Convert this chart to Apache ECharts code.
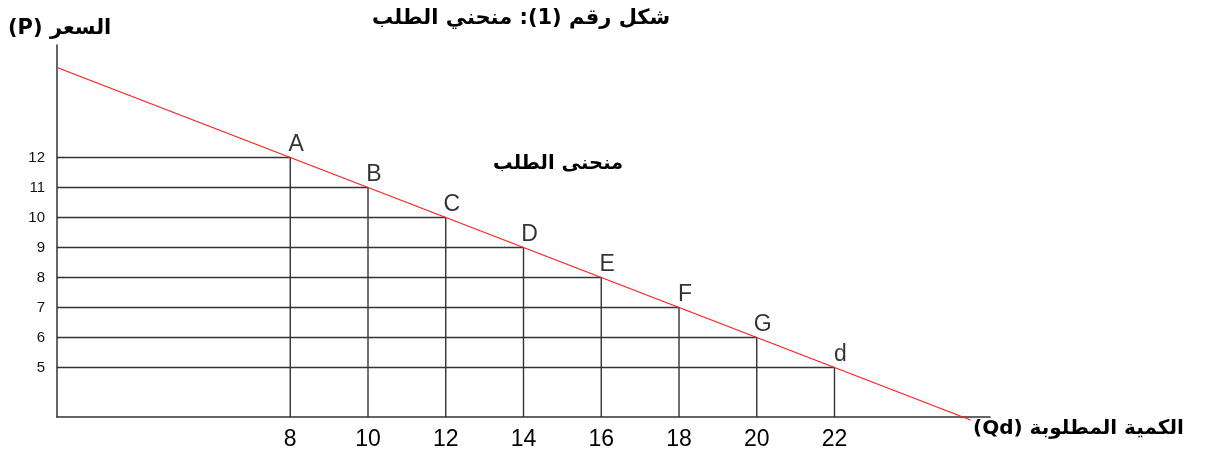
<!DOCTYPE html>
<html>
<head>
<meta charset="utf-8">
<script src="https://cdn.jsdelivr.net/npm/echarts@6/dist/echarts.min.js"></script>
<style>
  html, body { margin: 0; padding: 0; background: #fff; }
  #chart { width: 1208px; height: 455px; }
</style>
</head>
<body>
<div id="chart"></div>
<script>
// Demand schedule: named points on the curve
const pointNames = ['A', 'B', 'C', 'D', 'E', 'F', 'G', 'd'];
const quantity = [8, 10, 12, 14, 16, 18, 20, 22];
const price = [12, 11, 10, 9, 8, 7, 6, 5];

// Tick labels shown on each axis
const quantityTicks = [8, 10, 12, 14, 16, 18, 20, 22];
const priceTicks = [5, 6, 7, 8, 9, 10, 11, 12];

// End points of the drawn demand line
const demandLineQ = [2, 25.5];
const demandLineP = [15, 3.25];

// Axis extents
const qMin = 2, qMax = 26;
const pMin = 3.35, pMax = 15.75;

const latin = "'Liberation Sans', 'DejaVu Sans', sans-serif";
const arabic = "'DejaVu Sans', 'Liberation Sans', sans-serif";

const chart = echarts.init(document.getElementById('chart'), null, { renderer: 'canvas' });

// Dropped guides: from the price axis to each point, then down to the quantity axis
const guideSeries = quantity.map((q, i) => ({
  type: 'line',
  silent: true,
  symbol: 'none',
  lineStyle: { color: '#333', width: 1.4 },
  data: [[qMin, price[i]], [q, price[i]], [q, pMin]],
  z: 2
}));

const option = {
  animation: false,
  backgroundColor: '#fff',
  grid: { left: 57, right: 218, top: 45, bottom: 38, containLabel: false },
  xAxis: {
    type: 'value',
    min: qMin,
    max: qMax,
    splitLine: { show: false },
    axisTick: { show: false },
    axisLine: { lineStyle: { color: '#333', width: 1.5 } },
    axisLabel: {
      customValues: quantityTicks,
      fontSize: 23,
      fontFamily: latin,
      color: '#000',
      margin: 11
    }
  },
  yAxis: {
    type: 'value',
    min: pMin,
    max: pMax,
    splitLine: { show: false },
    axisTick: { show: false },
    axisLine: { lineStyle: { color: '#333', width: 1.5 } },
    axisLabel: {
      customValues: priceTicks,
      fontSize: 15,
      fontFamily: latin,
      color: '#111',
      margin: 12
    }
  },
  series: [
    ...guideSeries,
    {
      type: 'line',
      name: 'demand',
      silent: true,
      clip: false,
      symbol: 'none',
      lineStyle: { color: '#ff2020', width: 1.3 },
      data: demandLineQ.map((q, i) => [q, demandLineP[i]]),
      z: 3
    },
    {
      type: 'scatter',
      silent: true,
      symbolSize: 0,
      data: quantity.map((q, i) => ({ name: pointNames[i], value: [q, price[i]] })),
      label: {
        show: true,
        position: 'top',
        distance: 1,
        offset: [6, 0],
        formatter: p => p.name,
        fontSize: 23,
        fontFamily: latin,
        color: '#000'
      },
      z: 4
    }
  ],
  graphic: [
    {
      type: 'text',
      left: 372,
      top: 8,
      style: {
        text: 'شكل رقم (1): منحني الطلب',
        font: 'bold 21px ' + arabic,
        fill: '#000'
      }
    },
    {
      type: 'text',
      left: 8,
      top: 18,
      style: {
        text: '(P) السعر',
        font: 'bold 21px ' + arabic,
        fill: '#000'
      }
    },
    {
      type: 'text',
      left: 493,
      top: 154,
      style: {
        text: 'منحنى الطلب',
        font: 'bold 19.5px ' + arabic,
        fill: '#000'
      }
    },
    {
      type: 'text',
      left: 973,
      top: 419,
      style: {
        text: '(Qd) الكمية المطلوبة',
        font: 'bold 20px ' + arabic,
        fill: '#000'
      }
    }
  ]
};

chart.setOption(option);
</script>
</body>
</html>
